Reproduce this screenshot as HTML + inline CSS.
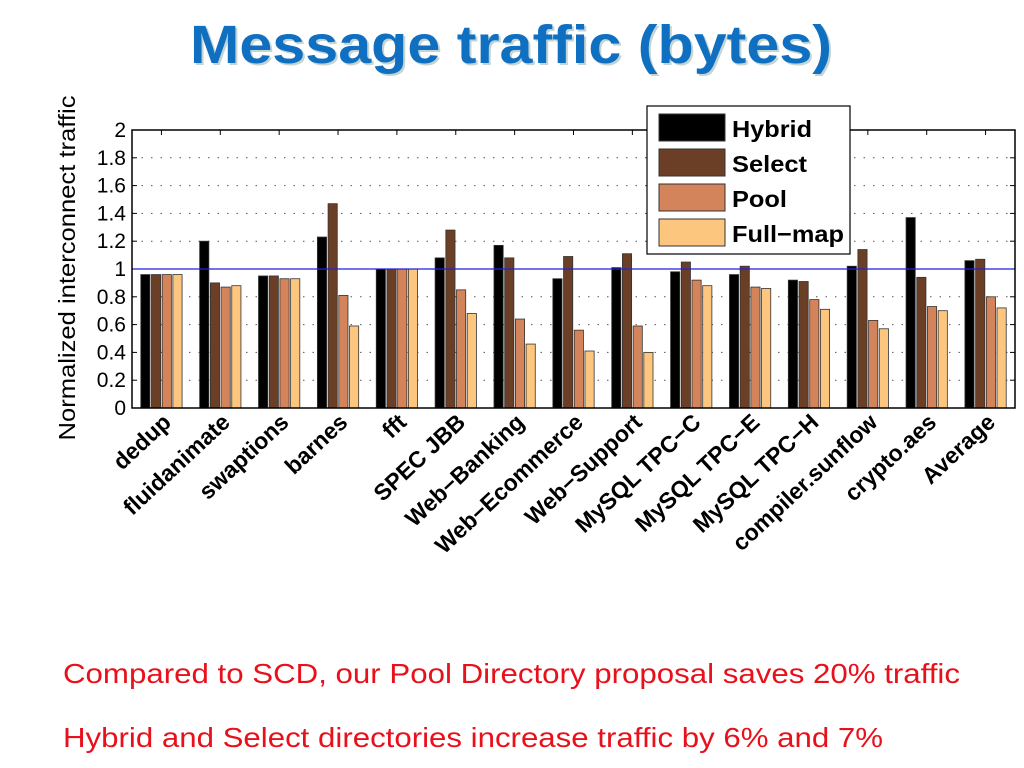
<!DOCTYPE html>
<html><head><meta charset="utf-8"><style>
html,body{margin:0;padding:0;background:#fff;}
svg{display:block;font-family:"Liberation Sans",Arial,sans-serif;}
</style></head><body>
<svg id="chart" width="1024" height="768" viewBox="0 0 1024 768">
<text x="513" y="65" text-anchor="middle" font-size="54" font-weight="bold" fill="#8aa" opacity="0.5" textLength="642" lengthAdjust="spacingAndGlyphs">Message traffic (bytes)</text>
<text x="511" y="63" text-anchor="middle" font-size="54" font-weight="bold" fill="#0f6fc0" textLength="642" lengthAdjust="spacingAndGlyphs">Message traffic (bytes)</text>
<text transform="translate(75,268) rotate(-90)" text-anchor="middle" font-size="23" fill="#000" textLength="345" lengthAdjust="spacingAndGlyphs">Normalized interconnect traffic</text>
<g id="grid"></g><g id="bars"></g><g id="axes"></g><g id="labels"></g>
<g>
<rect x="647" y="106" width="203" height="148" fill="#fff" stroke="#000" stroke-width="1.2"/>
<rect x="659" y="114" width="66" height="27" fill="#000" stroke="#333"/>
<text x="732" y="137" font-size="23" font-weight="bold" textLength="80" lengthAdjust="spacingAndGlyphs">Hybrid</text>
<rect x="659" y="149" width="66" height="27" fill="#6b3f26" stroke="#333"/>
<text x="732" y="172" font-size="23" font-weight="bold" textLength="75" lengthAdjust="spacingAndGlyphs">Select</text>
<rect x="659" y="184" width="66" height="27" fill="#d4845a" stroke="#333"/>
<text x="732" y="207" font-size="23" font-weight="bold" textLength="55" lengthAdjust="spacingAndGlyphs">Pool</text>
<rect x="659" y="219" width="66" height="27" fill="#fcc67f" stroke="#333"/>
<text x="732" y="242" font-size="23" font-weight="bold" textLength="112" lengthAdjust="spacingAndGlyphs">Full−map</text>
</g>
<text x="63" y="683" font-size="28" fill="#e8101a" textLength="897" lengthAdjust="spacingAndGlyphs">Compared to SCD, our Pool Directory proposal saves 20% traffic</text>
<text x="63" y="747" font-size="28" fill="#e8101a" textLength="820" lengthAdjust="spacingAndGlyphs">Hybrid and Select directories increase traffic by 6% and 7%</text>
</svg>
<script>
const categories=["dedup","fluidanimate","swaptions","barnes","fft","SPEC JBB","Web−Banking","Web−Ecommerce","Web−Support","MySQL TPC−C","MySQL TPC−E","MySQL TPC−H","compiler.sunflow","crypto.aes","Average"];
const hybrid=[0.96,1.20,0.95,1.23,1.00,1.08,1.17,0.93,1.01,0.98,0.96,0.92,1.02,1.37,1.06];
const select=[0.96,0.90,0.95,1.47,1.00,1.28,1.08,1.09,1.11,1.05,1.02,0.91,1.14,0.94,1.07];
const pool=[0.96,0.87,0.93,0.81,1.00,0.85,0.64,0.56,0.59,0.92,0.87,0.78,0.63,0.73,0.80];
const fullmap=[0.96,0.88,0.93,0.59,1.00,0.68,0.46,0.41,0.40,0.88,0.86,0.71,0.57,0.70,0.72];
const yTicks=["0","0.2","0.4","0.6","0.8","1","1.2","1.4","1.6","1.8","2"];
const NS="http://www.w3.org/2000/svg";
const L=132,R=1015,T=130,B=408,YMAX=2;
const y=v=>B-(v/YMAX)*(B-T);
const gw=(R-L)/categories.length;
const xc=i=>L+gw*(i+0.5);
function mk(tag,attrs,parent){const e=document.createElementNS(NS,tag);for(const k in attrs)e.setAttribute(k,attrs[k]);document.getElementById(parent).appendChild(e);return e;}
yTicks.forEach((t,i)=>{const v=parseFloat(t);const yy=y(v);
 if(v>0&&v<YMAX){const g=mk("line",{x1:L,x2:R,y1:yy,y2:yy,stroke:"#555","stroke-width":1,"stroke-dasharray":"1.5,8"},"grid");
 
 }
 const tk=mk("line",{x1:L,x2:L+5,y1:yy,y2:yy,stroke:"#000"},"axes");
 
 
 const tk2=mk("line",{x1:R,x2:R-5,y1:yy,y2:yy,stroke:"#000"},"axes");
 
 
 const tx=mk("text",{x:L-6,y:yy+7,"text-anchor":"end","font-size":21},"axes");tx.textContent=t;
 
 
});
const series=[hybrid,select,pool,fullmap];
const colors=["#000","#6b3f26","#d4845a","#fcc67f"];
const sname=["hybrid","select","pool","fullmap"];
const bw=9.2,step=10.7;
categories.forEach((c,i)=>{
 series.forEach((s,j)=>{const x=xc(i)+(j-1.5)*step-bw/2;
  const r=mk("rect",{x:x,y:y(s[i]),width:bw,height:B-y(s[i]),fill:colors[j],stroke:"#333","stroke-width":0.8},"bars");
  
  
 });
 const tk=mk("line",{x1:xc(i),x2:xc(i),y1:T,y2:T+5,stroke:"#000"},"axes");
 
 
 const lb=mk("text",{transform:`translate(${xc(i)+11},${B+16}) rotate(-43)`,"text-anchor":"end","font-size":23,"font-weight":"bold"},"labels");
 lb.textContent=c;
 
 
});
const ref=mk("line",{x1:L,x2:R,y1:y(1),y2:y(1),stroke:"#2222dd","stroke-width":1.2},"axes");


const fr=mk("rect",{x:L,y:T,width:R-L,height:B-T,fill:"none",stroke:"#000","stroke-width":1.5},"axes");


</script>
</body></html>
